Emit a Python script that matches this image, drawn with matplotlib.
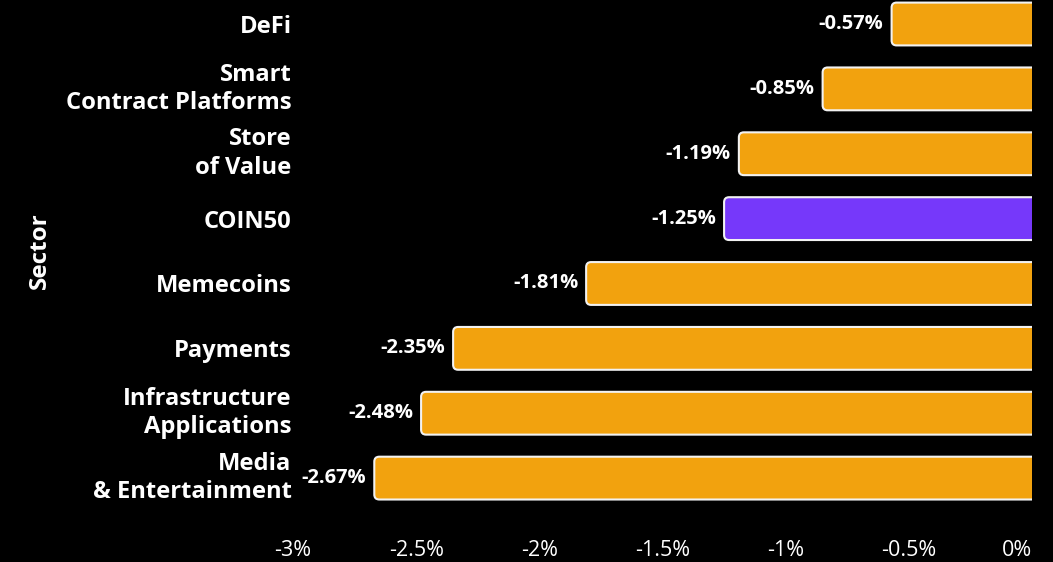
import matplotlib
matplotlib.use("Agg")
import matplotlib.pyplot as plt
from matplotlib.patches import FancyBboxPatch
from matplotlib.ticker import FuncFormatter

categories = ["DeFi", "Smart\nContract Platforms", "Store\nof Value", "COIN50",
              "Memecoins", "Payments", "Infrastructure\nApplications", "Media\n& Entertainment"]
values = [-0.57, -0.85, -1.19, -1.25, -1.81, -2.35, -2.48, -2.67]
highlight = "COIN50"
xticks = [-3, -2.5, -2, -1.5, -1, -0.5, 0]

ORANGE = "#F2A20E"
PURPLE = "#7638FA"
EDGE = "#F2F2F2"
BG = "black"
FONT = ["Open Sans", "DejaVu Sans"]

W, H = 1053, 562
fig = plt.figure(figsize=(W / 100, H / 100), dpi=100, facecolor=BG)
left_px, right_px, top_px, bottom_px = 293, 1032, 0, 530
ax = fig.add_axes([left_px / W, 1 - bottom_px / H, (right_px - left_px) / W, (bottom_px - top_px) / H])
ax.set_facecolor(BG)

n = len(categories)
pos = list(range(n))
bars = ax.barh(pos, values, height=0.66, color="none")

ax.set_xlim(-3, 0)
ax.set_ylim(7.80, -0.37)

px_per_x = (right_px - left_px) / 3.0
px_per_y = (bottom_px - top_px) / (7.80 + 0.37)
radius_px = 5
rs = radius_px / px_per_x
aspect = px_per_x / px_per_y

for b, cat, v in zip(bars, categories, values):
    x0 = b.get_x() + b.get_width()  # value end (left)
    y0 = b.get_y()
    h = b.get_height()
    w = -b.get_width()
    color = PURPLE if cat == highlight else ORANGE
    p = FancyBboxPatch((x0, y0), w + 0.05, h,
                       boxstyle=f"round,pad=0,rounding_size={rs}",
                       mutation_aspect=aspect,
                       facecolor=color, edgecolor=EDGE, linewidth=1.5,
                       clip_on=True, zorder=3)
    ax.add_patch(p)
    b.remove()
    ax.text(v - 8 / px_per_x, y0 + h / 2, f"{v:.2f}%", ha="right", va="center",
            color="white", fontsize=14.5, fontweight="bold", family=FONT, zorder=4)

ax.set_yticks(pos)
ax.set_yticklabels(categories, fontsize=17.1, fontweight="bold", color="white",
                   family=FONT, linespacing=1.25)
for lab in ax.get_yticklabels():
    lab.set_va("center" if "\n" in lab.get_text() else "center_baseline")
ax.tick_params(axis="y", length=0, pad=1)

ax.set_xticks(xticks)
ax.xaxis.set_major_formatter(FuncFormatter(lambda x, _: f"{x:g}%"))
ax.tick_params(axis="x", length=0, pad=7, labelsize=15.5, labelcolor="white")
for lab in ax.get_xticklabels():
    lab.set_family(FONT)
xl = ax.get_xticklabels()
xl[-1].set_ha("right")

for s in ax.spines.values():
    s.set_visible(False)
ax.grid(False)

fig.text(40 / W, 1 - 251 / H, "Sector", rotation=90, ha="center", va="center",
         color="white", fontsize=17.5, fontweight="bold", family=FONT)

fig.savefig("out.png", dpi=100, facecolor=BG)
